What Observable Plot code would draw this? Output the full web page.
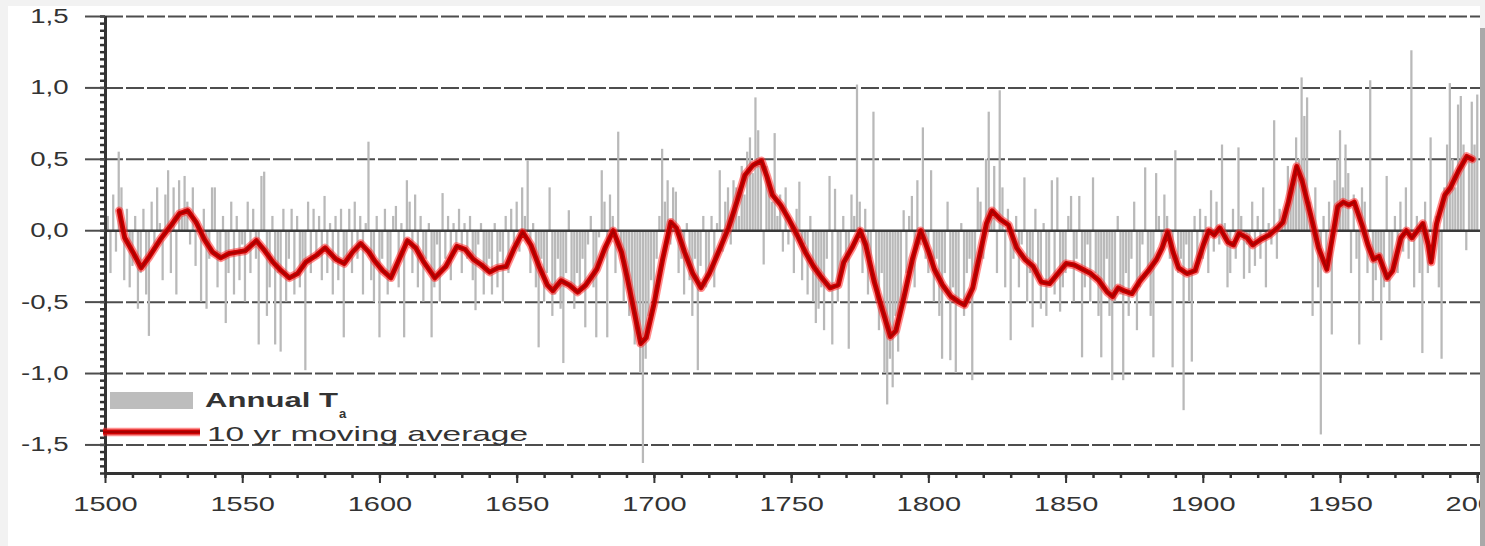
<!DOCTYPE html>
<html><head><meta charset="utf-8">
<script src="https://cdn.jsdelivr.net/npm/d3@7"></script>
<script src="https://cdn.jsdelivr.net/npm/@observablehq/plot@0.6"></script>
<style>
html,body{margin:0;padding:0;background:#f2f2f2;}
#wrap{position:relative;width:1485px;height:546px;overflow:hidden;}
#panel{position:absolute;left:8px;top:6px;width:1472px;height:540px;background:#fff;}
#edge{position:absolute;left:1480px;top:28px;width:5px;height:518px;background:#a9a9a9;z-index:5;}
#chart{position:absolute;left:0;top:0;z-index:2;}
#legend{position:absolute;left:0;top:0;z-index:3;}
</style></head><body>
<div id="wrap"><div id="panel"></div><div id="chart"></div><svg id="legend" width="1485" height="546"></svg><div id="edge"></div></div>
<script>
const firstYear = 1500;
// annual temperature anomalies, 1500 .. 2000 (one row per decade)
const annual = [
 -0.2, 0.1, -0.3, 0.25, -0.15, 0.55, 0.3, -0.35, 0.15, -0.4,
 -0.25, 0.1, -0.55, -0.3, 0.15, -0.45, -0.74, 0.2, -0.1, 0.3,
 0.05, -0.35, 0.25, 0.42, -0.3, 0.3, -0.45, 0.35, 0.1, 0.38,
 0.2, -0.1, 0.3, -0.25, 0.05, -0.5, 0.15, -0.55, -0.2, 0.3,
 0.3, -0.4, -0.2, 0.1, -0.65, -0.3, 0.2, -0.45, 0.1, -0.35,
 -0.1, -0.5, 0.2, -0.3, 0.15, -0.2, -0.8, 0.38, 0.41, -0.6,
 -0.4, 0.1, -0.8, -0.3, -0.85, 0.15, -0.5, -0.2, 0.15, -0.45,
 0.1, -0.4, -0.25, -0.98, 0.2, -0.3, 0.15, -0.2, 0.1, -0.35,
 0.24, -0.3, 0.05, -0.45, 0.1, -0.35, 0.15, -0.75, -0.2, 0.15,
 -0.3, 0.2, -0.2, 0.1, -0.45, 0.05, 0.62, -0.35, -0.5, 0.1,
 -0.75, -0.2, 0.15, -0.45, -0.3, 0.1, 0.17, -0.4, 0.05, -0.75,
 0.35, 0.2, -0.3, 0.25, -0.4, 0.1, -0.5, -0.2, 0.05, -0.75,
 -0.4, -0.1, -0.5, 0.26, -0.2, 0.1, -0.35, 0.05, -0.15, 0.15,
 -0.3, 0.05, -0.2, 0.1, -0.35, -0.56, -0.1, 0.05, -0.45, -0.3,
 -0.2, -0.45, 0.05, -0.4, -0.15, -0.5, 0.1, -0.3, 0.15, -0.1,
 0.2, -0.15, 0.3, 0.1, 0.49, -0.3, 0.05, -0.4, -0.82, -0.2,
 -0.5, -0.3, 0.3, -0.6, -0.45, -0.2, -0.55, -0.93, -0.3, 0.14,
 -0.4, -0.55, -0.3, -0.45, -0.2, -0.68, -0.1, 0.1, -0.4, -0.75,
 -0.05, 0.42, 0.2, -0.75, 0.25, 0.1, -0.3, 0.69, -0.2, -0.5,
 -0.3, -0.6, -0.45, -0.8, -0.7, -1.0, -1.63, -0.9, -0.6, -0.35,
 -0.55, -0.2, 0.1, 0.57, 0.2, 0.35, -0.1, 0.3, 0.27, -0.3,
 -0.2, -0.45, 0.05, -0.35, -0.6, -0.2, -0.98, -0.25, 0.1, -0.4,
 -0.3, 0.1, -0.4, 0.05, 0.42, -0.15, 0.2, 0.3, -0.1, 0.35,
 0.3, 0.1, 0.45, 0.25, 0.55, 0.65, 0.4, 0.93, 0.7, 0.5,
 -0.24, 0.45, 0.3, 0.2, 0.68, 0.1, 0.25, -0.15, 0.3, -0.1,
 0.05, -0.3, 0.15, 0.34, -0.35, -0.1, -0.45, 0.1, -0.5, -0.65,
 -0.55, -0.4, -0.7, -0.2, 0.38, -0.8, 0.29, -0.5, -0.3, 0.1,
 -0.2, -0.83, 0.25, 0.1, 1.02, 0.2, -0.3, 0.15, -0.45, -0.2,
 0.83, -0.5, -0.7, -0.3, -1.0, -1.22, -0.9, -1.1, -0.6, -0.85,
 -0.5, 0.14, -0.3, 0.1, 0.24, -0.4, 0.35, -0.1, 0.72, -0.2,
 -0.3, 0.42, -0.5, -0.2, -0.6, -0.9, -0.3, 0.2, -0.91, -0.4,
 -1.0, -0.5, 0.05, -0.6, -0.3, -0.2, -1.05, -0.35, 0.3, 0.2,
 -0.2, 0.5, 0.83, 0.1, 0.45, -0.3, 0.98, 0.3, -0.4, 0.15,
 -0.77, -0.2, 0.1, -0.4, -0.1, 0.37, -0.5, -0.3, -0.68, 0.15,
 -0.3, -0.55, 0.05, -0.6, -0.35, 0.35, -0.45, 0.37, -0.57, -0.4,
 -0.3, 0.1, 0.24, -0.5, -0.2, 0.24, -0.89, -0.4, -0.1, -0.5,
 0.37, -0.3, -0.6, -0.89, -0.4, -0.2, -0.6, -1.05, -0.5, 0.1,
 -0.45, -1.05, -0.3, -0.6, -0.2, 0.2, -0.7, -0.4, -0.1, 0.44,
 -0.3, -0.6, -0.89, 0.4, 0.1, -0.15, 0.25, 0.1, -0.2, -0.96,
 0.56, -0.3, -0.2, -1.26, -0.1, -0.5, -0.92, 0.1, -0.3, 0.15,
 -0.2, 0.1, -0.3, 0.28, -0.15, 0.2, -0.1, 0.6, 0.05, -0.4,
 -0.3, 0.15, -0.2, 0.58, 0.1, -0.34, -0.1, -0.3, 0.2, -0.25,
 0.1, -0.2, 0.3, -0.4, 0.05, -0.1, 0.77, -0.2, 0.15, 0.05,
 0.1, 0.45, 0.24, 0.3, 0.65, 0.5, 1.07, 0.8, 0.93, 0.2,
 -0.6, 0.3, -0.4, -1.43, 0.1, -0.3, 0.2, -0.73, 0.35, 0.5,
 0.7, 0.3, 0.6, 0.4, -0.3, 0.25, -0.2, -0.8, 0.3, 0.2,
 -0.3, 1.05, -0.5, -0.35, -0.2, -0.77, -0.4, 0.38, -0.5, -0.3,
 0.1, -0.3, 0.2, -0.15, 0.3, -0.2, 1.26, -0.4, 0.1, -0.3,
 -0.86, 0.2, -0.3, 0.65, -0.2, 0.1, -0.4, -0.9, 0.3, 0.6,
 1.03, 0.5, 0.3, 0.88, 0.94, 0.6, -0.14, 0.5, 0.9, 0.6,
 0.95
];
// 10 yr moving average
const maYears = [1505,1507,1510,1513,1516,1520,1524,1527,1530,1533,1536,1539,1542,1545,1548,1551,1555,1558,1561,1564,1567,1570,1573,1577,1580,1584,1587,1590,1593,1596,1598,1601,1604,1607,1610,1613,1616,1620,1624,1628,1631,1634,1637,1640,1643,1646,1649,1652,1655,1658,1661,1663,1666,1669,1672,1675,1679,1682,1685,1688,1690,1693,1695,1697,1700,1703,1706,1708,1711,1714,1717,1720,1724,1727,1730,1733,1736,1739,1741,1743,1746,1749,1752,1755,1758,1761,1764,1767,1769,1772,1775,1777,1780,1783,1786,1788,1791,1794,1797,1800,1802,1805,1808,1811,1813,1816,1818,1821,1823,1826,1829,1832,1835,1838,1841,1844,1847,1850,1853,1856,1859,1862,1865,1867,1869,1871,1874,1877,1880,1883,1885,1887,1889,1891,1894,1897,1900,1902,1904,1906,1909,1911,1913,1916,1918,1921,1924,1927,1929,1931,1934,1936,1939,1942,1945,1947,1949,1951,1953,1955,1958,1960,1962,1964,1967,1969,1972,1974,1976,1978,1980,1982,1983,1985,1988,1990,1993,1996,1998];
const maValues = [0.14,-0.05,-0.15,-0.26,-0.18,-0.06,0.04,0.12,0.14,0.06,-0.06,-0.15,-0.19,-0.16,-0.15,-0.14,-0.07,-0.14,-0.22,-0.28,-0.33,-0.3,-0.22,-0.17,-0.12,-0.2,-0.23,-0.15,-0.09,-0.15,-0.21,-0.28,-0.33,-0.2,-0.07,-0.12,-0.22,-0.33,-0.25,-0.11,-0.13,-0.2,-0.24,-0.29,-0.26,-0.25,-0.12,-0.01,-0.1,-0.25,-0.38,-0.42,-0.35,-0.38,-0.43,-0.38,-0.27,-0.12,0.0,-0.15,-0.32,-0.6,-0.79,-0.75,-0.5,-0.2,0.06,0.02,-0.15,-0.3,-0.4,-0.3,-0.12,0.02,0.2,0.39,0.46,0.49,0.38,0.25,0.18,0.08,-0.03,-0.15,-0.25,-0.33,-0.4,-0.38,-0.22,-0.12,0.0,-0.1,-0.35,-0.55,-0.74,-0.7,-0.46,-0.2,0.0,-0.15,-0.27,-0.38,-0.46,-0.5,-0.52,-0.4,-0.22,0.05,0.14,0.08,0.04,-0.12,-0.2,-0.25,-0.36,-0.37,-0.3,-0.23,-0.24,-0.27,-0.3,-0.35,-0.43,-0.46,-0.4,-0.42,-0.44,-0.35,-0.28,-0.2,-0.12,-0.01,-0.15,-0.26,-0.3,-0.28,-0.1,0.0,-0.03,0.02,-0.08,-0.1,-0.02,-0.05,-0.1,-0.06,-0.03,0.02,0.06,0.2,0.45,0.35,0.12,-0.12,-0.27,-0.05,0.17,0.2,0.18,0.2,0.03,-0.1,-0.2,-0.18,-0.33,-0.28,-0.05,0.0,-0.05,0.0,0.05,-0.1,-0.22,0.05,0.25,0.3,0.42,0.52,0.5];
const yMajorTicks = [-1.5, -1, -0.5, 0, 0.5, 1, 1.5];
const xMajorTicks = [1500, 1550, 1600, 1650, 1700, 1750, 1800, 1850, 1900, 1950, 2000];
const legendLabels = ["Annual T", "a", "10 yr moving average"];

const bars = annual.map((v, i) => ({year: firstYear + i, value: v}));
const ma = maYears.map((y, i) => ({year: y, value: maValues[i]}));
const yMinorTicks = d3.range(-34, 31).map(k => k * 0.05);
const xMinorTicks = d3.range(1500, 2001, 10);
const fmtY = d => (d < 0 ? "-" : "") + Math.abs(d).toFixed(1).replace(".", ",");

const plot = Plot.plot({
  width: 1485, height: 546,
  marginLeft: 105, marginRight: 5, marginTop: 16, marginBottom: 73,
  x: {domain: [1500, 2001], label: null},
  y: {domain: [-1.7, 1.5], label: null},
  style: {background: "transparent", fontFamily: "'Liberation Sans', Arial, sans-serif", color: "#333"},
  marks: [
    Plot.ruleY(yMajorTicks.filter(d => d !== 0), {stroke: "#4d4d4d", strokeWidth: 2, strokeDasharray: "18,3"}),
    Plot.rectY(bars, {x1: d => d.year - 0.5, x2: d => d.year + 0.5, y1: 0, y2: "value", fill: "#b9b9b9", insetLeft: 0.25, insetRight: 0.25}),
    Plot.ruleY([0], {stroke: "#3a3a3a", strokeWidth: 2.5}),
    Plot.line(ma, {x: "year", y: "value", stroke: "#ff3030", strokeWidth: 8.5, strokeOpacity: 0.55, strokeLinejoin: "round"}),
    Plot.line(ma, {x: "year", y: "value", stroke: "#d00000", strokeWidth: 5, strokeLinejoin: "round"}),
    Plot.line(ma, {x: "year", y: "value", stroke: "#a80000", strokeWidth: 2, strokeLinejoin: "round"}),
    Plot.ruleX([1500], {stroke: "#333", strokeWidth: 3}),
    Plot.ruleY([-1.7], {stroke: "#333", strokeWidth: 3}),
    Plot.axisY(yMinorTicks, {tickSize: 5, text: null, stroke: "#333", strokeWidth: 2.5}),
    Plot.axisY(yMajorTicks, {tickSize: 20, tickPadding: 17, tickFormat: fmtY, fontSize: 20, stroke: "#4d4d4d", strokeWidth: 2, fill: "#333"}),
    Plot.axisX(xMinorTicks, {tickSize: 5, text: null, stroke: "#333", strokeWidth: 2.5}),
    Plot.axisX(xMajorTicks, {tickSize: 10, tickPadding: 13, tickFormat: d => String(d), fontSize: 21, stroke: "#333", strokeWidth: 2, fill: "#333"})
  ]
});
document.getElementById("chart").appendChild(plot);
// the reference typography is horizontally stretched
plot.querySelectorAll("text").forEach(t => {
  const w = t.getComputedTextLength();
  if (w > 0) { t.setAttribute("textLength", w * 1.38); t.setAttribute("lengthAdjust", "spacingAndGlyphs"); }
});

// legend
const lg = d3.select("#legend").style("font-family", "'Liberation Sans', Arial, sans-serif");
lg.append("rect").attr("x", 110).attr("y", 392).attr("width", 83).attr("height", 17).attr("fill", "#bdbdbd");
lg.append("text").attr("x", 205).attr("y", 407).attr("font-size", 21).attr("font-weight", "bold").attr("fill", "#333")
  .attr("textLength", 133).attr("lengthAdjust", "spacingAndGlyphs").text(legendLabels[0]);
lg.append("text").attr("x", 339).attr("y", 418).attr("font-size", 13).attr("font-weight", "bold").attr("fill", "#333").text(legendLabels[1]);
lg.append("line").attr("x1", 103).attr("x2", 200).attr("y1", 432).attr("y2", 432).attr("stroke", "#ff3030").attr("stroke-width", 8.5).attr("stroke-opacity", 0.55);
lg.append("line").attr("x1", 103).attr("x2", 200).attr("y1", 432).attr("y2", 432).attr("stroke", "#d00000").attr("stroke-width", 5);
lg.append("line").attr("x1", 103).attr("x2", 200).attr("y1", 432).attr("y2", 432).attr("stroke", "#a80000").attr("stroke-width", 2);
lg.append("text").attr("x", 207).attr("y", 441).attr("font-size", 21).attr("fill", "#333")
  .attr("textLength", 321).attr("lengthAdjust", "spacingAndGlyphs").text(legendLabels[2]);
</script>
</body></html>
